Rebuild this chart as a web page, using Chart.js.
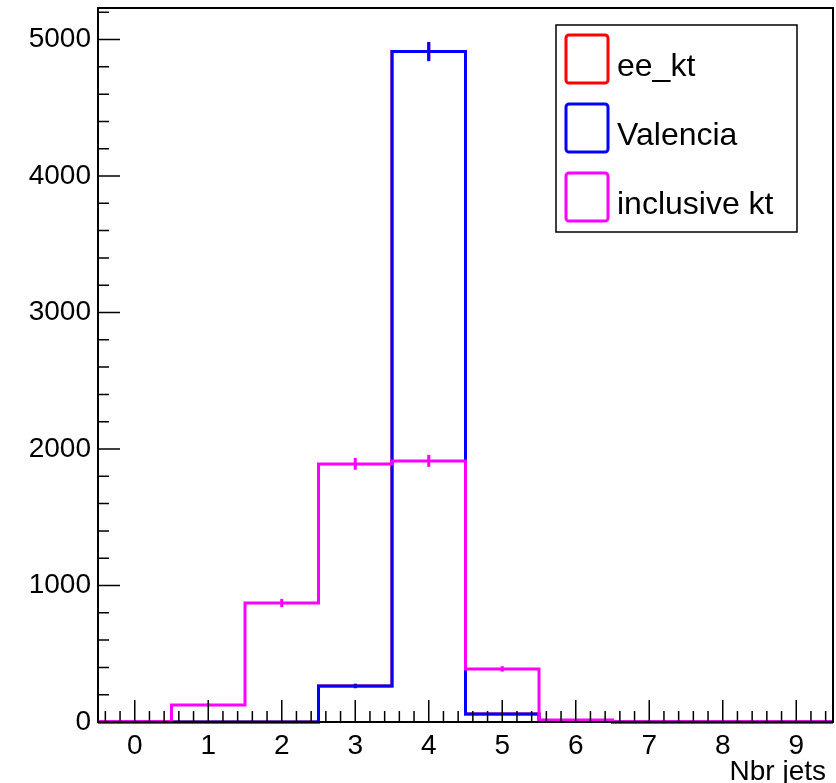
<!DOCTYPE html>
<html>
<head>
<meta charset="utf-8">
<title>Nbr jets</title>
<script src="https://cdn.jsdelivr.net/npm/chart.js@4.4.1/dist/chart.umd.min.js"></script>
<style>
  html, body { margin: 0; padding: 0; background: #fff; }
  #wrap { width: 836px; height: 783px; }
</style>
</head>
<body>
<div id="wrap"><canvas id="jets" width="836" height="783"></canvas></div>
<script>
// bins: number of jets, 0..9 (bin edges at n-0.5 .. n+0.5)
const bins = [0, 1, 2, 3, 4, 5, 6, 7, 8, 9];
const eeKt      = [0, 0, 0, 264, 4912, 59, 3, 0, 0, 0];
const valencia  = [0, 0, 0, 264, 4912, 59, 3, 0, 0, 0];
const inclKt    = [4, 125, 872, 1891, 1913, 389, 15, 1, 1, 1];
const eeKtErr     = [0, 0, 0, 16, 70, 8, 2, 0, 0, 0];
const valenciaErr = [0, 0, 0, 16, 70, 8, 2, 0, 0, 0];
const inclKtErr   = [2, 11, 30, 43, 44, 20, 4, 1, 1, 1];
const xTicks = [0, 1, 2, 3, 4, 5, 6, 7, 8, 9];
const yTicks = [0, 1000, 2000, 3000, 4000, 5000];
const seriesNames = ['ee_kt', 'Valencia', 'inclusive kt'];

const FONT = '"Liberation Sans", Arial, Helvetica, sans-serif';

// turn bin contents into a step outline (left edge -> right edge per bin)
function steps(values) {
  const pts = [];
  bins.forEach((b, i) => {
    pts.push({ x: b - 0.5, y: values[i] });
    pts.push({ x: b + 0.5, y: values[i] });
  });
  return pts;
}

function histo(label, values, errors, color, order) {
  return {
    label: label,
    data: steps(values),
    errors: errors,
    borderColor: color,
    backgroundColor: color,
    borderWidth: 3,
    pointRadius: 0,
    tension: 0,
    fill: false,
    order: order,
    clip: 3
  };
}

// ROOT-like frame, inward ticks, error bars, legend and axis title
const rootStyle = {
  id: 'rootStyle',
  afterDatasetsDraw(chart) {
    const ctx = chart.ctx;
    const area = chart.chartArea;
    const xs = chart.scales.x;
    const ys = chart.scales.y;
    ctx.save();

    // error bars
    chart.data.datasets.forEach((ds, di) => {
      if (!chart.isDatasetVisible(di)) return;
      ctx.strokeStyle = ds.borderColor;
      ctx.lineWidth = 3;
      bins.forEach((b, i) => {
        const v = ds.data[i * 2].y;
        const e = ds.errors[i];
        if (!e) return;
        const px = xs.getPixelForValue(b);
        ctx.beginPath();
        ctx.moveTo(px, ys.getPixelForValue(v - e));
        ctx.lineTo(px, ys.getPixelForValue(v + e));
        ctx.stroke();
      });
    });

    // frame
    ctx.strokeStyle = '#000';
    ctx.lineWidth = 2;
    ctx.strokeRect(area.left, area.top, area.right - area.left, area.bottom - area.top);

    // ticks, pointing inward
    ctx.lineWidth = 1.5;
    ctx.beginPath();
    for (let k = 0; ; k++) {
      const v = xs.min + 0.1 + k * 0.2;
      if (v > xs.max) break;
      const px = xs.getPixelForValue(v);
      const major = Math.abs(v - Math.round(v)) < 1e-6;
      ctx.moveTo(px, area.bottom);
      ctx.lineTo(px, area.bottom - (major ? 22 : 11));
    }
    for (let v = 0; v <= ys.max; v += 200) {
      const py = ys.getPixelForValue(v);
      ctx.moveTo(area.left, py);
      ctx.lineTo(area.left + (v % 1000 === 0 ? 22 : 11), py);
    }
    ctx.stroke();

    // axis title
    ctx.fillStyle = '#000';
    ctx.font = '28px ' + FONT;
    ctx.textAlign = 'right';
    ctx.textBaseline = 'alphabetic';
    ctx.fillText('Nbr jets', 826, 780);

    // legend
    const lx = 556, ly = 25, lw = 241, lh = 207;
    ctx.fillStyle = '#fff';
    ctx.fillRect(lx, ly, lw, lh);
    ctx.lineWidth = 1.5;
    ctx.strokeStyle = '#000';
    ctx.strokeRect(lx, ly, lw, lh);
    [0, 1, 2].forEach((di, row) => {
      const ds = chart.data.datasets[di];
      const top = 35 + row * 69;
      ctx.strokeStyle = ds.borderColor;
      ctx.lineWidth = 3;
      ctx.beginPath();
      ctx.roundRect(566, top, 42, 48, 3);
      ctx.stroke();
      ctx.fillStyle = '#000';
      ctx.textAlign = 'left';
      ctx.textBaseline = 'alphabetic';
      ctx.font = '32px ' + FONT;
      ctx.fillText(seriesNames[di], 617, top + 41);
    });
    ctx.restore();
  }
};

const ctx = document.getElementById('jets').getContext('2d');
const chart = new Chart(ctx, {
  type: 'line',
  data: {
    datasets: [
      histo(seriesNames[0], eeKt, eeKtErr, '#ff0000', 2),
      histo(seriesNames[1], valencia, valenciaErr, '#0000ff', 1),
      histo(seriesNames[2], inclKt, inclKtErr, '#ff00ff', 0)
    ]
  },
  options: {
    responsive: false,
    animation: false,
    events: [],
    layout: { padding: { top: 8, right: 3, left: 0, bottom: 0 } },
    plugins: {
      legend: { display: false },
      tooltip: { enabled: false }
    },
    scales: {
      x: {
        type: 'linear',
        min: -0.5,
        max: 9.5,
        grid: { display: false, drawTicks: false },
        border: { display: false },
        afterBuildTicks: scale => { scale.ticks = xTicks.map(v => ({ value: v })); },
        afterFit: scale => { scale.height = 61; scale.paddingLeft = 0; scale.paddingRight = 0; },
        ticks: {
          color: '#000',
          padding: 7,
          maxRotation: 0,
          autoSkip: false,
          font: { family: FONT, size: 28 }
        }
      },
      y: {
        type: 'linear',
        min: 0,
        max: 5231,
        grid: { display: false, drawTicks: false },
        border: { display: false },
        afterBuildTicks: scale => { scale.ticks = yTicks.map(v => ({ value: v })); },
        afterFit: scale => { scale.width = 98; scale.paddingTop = 0; scale.paddingBottom = 0; },
        ticks: {
          color: '#000',
          padding: 7,
          autoSkip: false,
          font: { family: FONT, size: 28 },
          callback: v => String(v)
        }
      }
    }
  },
  plugins: [rootStyle]
});
</script>
</body>
</html>
